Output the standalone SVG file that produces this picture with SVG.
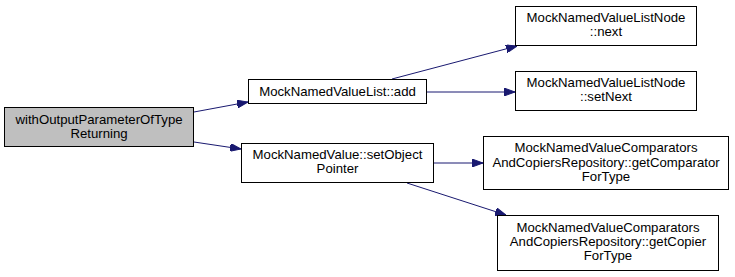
<svg xmlns="http://www.w3.org/2000/svg" width="735" height="277" viewBox="0 0 735 277">
  <style>
    .box { fill: #ffffff; stroke: #000000; stroke-width: 1; }
    .root { fill: #bfbfbf; }
    .lbl { font-family: "Liberation Sans", Arial, Helvetica, sans-serif; font-size: 13.2px; fill: #000000; text-anchor: middle; }
    .edge { fill: none; stroke: #191970; stroke-width: 1; }
  </style>
  <defs>
    <marker id="arrow" viewBox="0 0 11 8" refX="11" refY="4" markerWidth="11" markerHeight="8" markerUnits="userSpaceOnUse" orient="auto">
      <polygon points="0,0 11,4 0,8" fill="#191970" stroke="#191970"/>
    </marker>
  </defs>

  <g id="connectors">
    <line class="edge" x1="194" y1="112" x2="248" y2="102" marker-end="url(#arrow)"/>
    <line class="edge" x1="194" y1="142" x2="241" y2="149" marker-end="url(#arrow)"/>
    <line class="edge" x1="392" y1="79" x2="517" y2="46" marker-end="url(#arrow)"/>
    <line class="edge" x1="427" y1="92" x2="515" y2="92" marker-end="url(#arrow)"/>
    <line class="edge" x1="434" y1="163" x2="483" y2="163" marker-end="url(#arrow)"/>
    <line class="edge" x1="407" y1="183" x2="506" y2="215" marker-end="url(#arrow)"/>
  </g>

  <g id="node-withOutputParameterOfTypeReturning">
    <rect class="box root" x="4.5" y="107.5" width="189" height="39"/>
    <text class="lbl" x="99" y="124">withOutputParameterOfType</text>
    <text class="lbl" x="99" y="138">Returning</text>
  </g>

  <g id="node-list-add">
    <rect class="box" x="248.5" y="79.5" width="178" height="24"/>
    <text class="lbl" x="337.5" y="96">MockNamedValueList::add</text>
  </g>

  <g id="node-setObjectPointer">
    <rect class="box" x="241.5" y="143.5" width="192" height="39"/>
    <text class="lbl" x="337.5" y="159">MockNamedValue::setObject</text>
    <text class="lbl" x="337.5" y="173">Pointer</text>
  </g>

  <g id="node-listnode-next">
    <rect class="box" x="515.5" y="6.5" width="181" height="39"/>
    <text class="lbl" x="606" y="22">MockNamedValueListNode</text>
    <text class="lbl" x="606" y="36">::next</text>
  </g>

  <g id="node-listnode-setNext">
    <rect class="box" x="515.5" y="71.5" width="181" height="39"/>
    <text class="lbl" x="606" y="87">MockNamedValueListNode</text>
    <text class="lbl" x="606" y="101">::setNext</text>
  </g>

  <g id="node-getComparatorForType">
    <rect class="box" x="483.5" y="136.5" width="245" height="53"/>
    <text class="lbl" x="606" y="152">MockNamedValueComparators</text>
    <text class="lbl" x="606" y="166.5">AndCopiersRepository::getComparator</text>
    <text class="lbl" x="606" y="181">ForType</text>
  </g>

  <g id="node-getCopierForType">
    <rect class="box" x="497.5" y="215.5" width="221" height="55"/>
    <text class="lbl" x="608" y="232">MockNamedValueComparators</text>
    <text class="lbl" x="608" y="246">AndCopiersRepository::getCopier</text>
    <text class="lbl" x="608" y="260">ForType</text>
  </g>
</svg>
